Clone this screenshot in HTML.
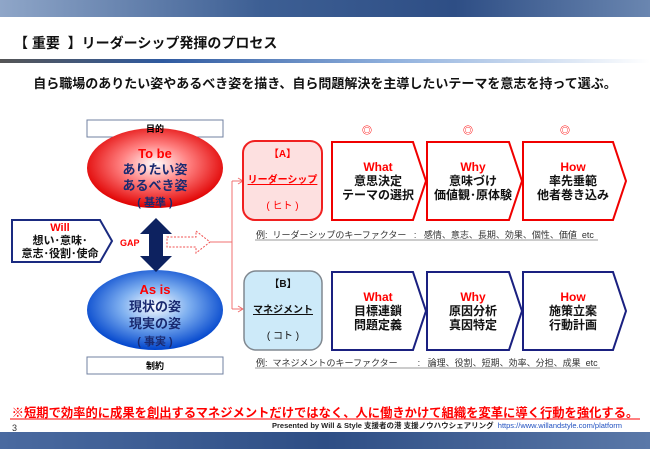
<!DOCTYPE html><html><head><meta charset="utf-8"><style>
body{margin:0;width:650px;height:449px;position:relative;overflow:hidden;background:#fff;font-family:"Liberation Sans","Noto Sans CJK JP",sans-serif;}
.a{position:absolute;}
.t{position:absolute;text-align:center;font-weight:bold;}
</style></head><body>
<div class="a" style="left:0;top:0;width:650px;height:17px;background:linear-gradient(90deg,#8fa6c8,#3d5f94 40%,#2e4e85 70%,#6a86b0)"></div>
<div class="a" style="left:14px;top:33px;font-size:14px;font-weight:bold;color:#111">【&nbsp;重要&nbsp;&nbsp;】リーダーシップ発揮のプロセス</div>
<div class="a" style="left:0;top:59px;width:650px;height:4px;background:linear-gradient(90deg,#555,#2f5aa0 25%,#8fb0dd 60%,#fff)"></div>
<div class="t" style="left:0;width:650px;top:73px;font-size:13px;color:#111">自ら職場のありたい姿やあるべき姿を描き、自ら問題解決を主導したいテーマを意志を持って選ぶ。</div>

<svg class="a" style="left:0;top:0" width="650" height="449">
<defs>
<radialGradient id="rg" cx="50%" cy="45%" r="55%"><stop offset="0" stop-color="#fff"/><stop offset="0.45" stop-color="#ff8080"/><stop offset="1" stop-color="#e00000"/></radialGradient>
<radialGradient id="bg" cx="50%" cy="45%" r="55%"><stop offset="0" stop-color="#fff"/><stop offset="0.45" stop-color="#7fb0f0"/><stop offset="1" stop-color="#0044cc"/></radialGradient>
</defs>
<rect x="87" y="120" width="136" height="17" fill="#fff" stroke="#7080a0"/>
<rect x="87" y="357" width="136" height="17" fill="#fff" stroke="#7080a0"/>
<ellipse cx="155" cy="168" rx="68" ry="40" fill="url(#rg)"/>
<ellipse cx="155" cy="310" rx="68" ry="40" fill="url(#bg)"/>
<polygon points="12,220 100,220 112,241 100,262 12,262" fill="#fff" stroke="#1a2a80" stroke-width="2"/>
<polygon points="156,218 172,234 163,234 163,256 172,256 156,272 140,256 149,256 149,234 140,234" fill="#0d2260"/>
<polygon points="167,237 196,237 196,231 210,242 196,253 196,247 167,247" fill="#fff" stroke="#f05050" stroke-dasharray="2,1.5"/>
<path d="M210,242 H232 M232,181 V309 M232,181 H243 M232,309 H243" stroke="#f07070" fill="none"/>
<path d="M238,178 L243,181 L238,184 M238,306 L243,309 L238,312" stroke="#f07070" fill="none"/>
<rect x="243" y="141" width="79" height="79" rx="12" fill="#fde0e0" stroke="#f02020" stroke-width="2"/>
<rect x="244" y="271" width="78" height="79" rx="12" fill="#cdeaf9" stroke="#808890" stroke-width="1.5"/>
<g fill="#fff" stroke-width="2" stroke="#f00000">
<polygon points="332,142 413,142 426,181 413,220 332,220"/>
<polygon points="427,142 509,142 522,181 509,220 427,220"/>
<polygon points="523,142 613,142 626,181 613,220 523,220"/>
</g>
<g fill="#fff" stroke-width="2" stroke="#1a2080">
<polygon points="332,272 413,272 426,311 413,350 332,350"/>
<polygon points="427,272 509,272 522,311 509,350 427,350"/>
<polygon points="523,272 613,272 626,311 613,350 523,350"/>
</g>
<line x1="255" y1="240" x2="598" y2="240" stroke="#999"/>
<line x1="255" y1="368" x2="600" y2="368" stroke="#999"/>
<line x1="10" y1="419" x2="640" y2="419" stroke="#f00" stroke-width="1"/>
</svg>
<div class="t" style="left:87px;width:136px;top:122px;font-size:9px">目的</div>
<div class="t" style="left:87px;width:136px;top:359px;font-size:9px">制約</div>
<div class="t" style="left:87px;width:136px;top:146px;font-size:13px;line-height:16px;color:#1a2a70"><span style="color:#f00">To be</span><br>ありたい姿<br>あるべき姿<br><span style="font-size:11px">( 基準 )</span></div>
<div class="t" style="left:87px;width:136px;top:281px;font-size:13px;line-height:17px;color:#1a2a70"><span style="color:#f00">As is</span><br>現状の姿<br>現実の姿<br><span style="font-size:11px">( 事実 )</span></div>
<div class="t" style="left:12px;width:96px;top:222px;font-size:11px;line-height:13px;color:#111"><span style="color:#f00">Will</span><br>想い･意味･<br>意志･役割･使命</div>
<div class="t" style="left:120px;top:238px;font-size:9px;color:#f00">GAP</div>
<div class="t" style="left:243px;width:79px;top:142px;font-size:10px;line-height:26px;color:#f00">【A】<br><u>リーダーシップ</u><br><span style="font-weight:normal">( ヒト )</span></div>
<div class="t" style="left:244px;width:78px;top:272px;font-size:10px;line-height:26px;color:#111">【B】<br><u>マネジメント</u><br><span style="font-weight:normal">( コト )</span></div>
<div class="t" style="left:362px;top:122px;font-size:10px;color:#f00">◎</div>
<div class="t" style="left:463px;top:122px;font-size:10px;color:#f00">◎</div>
<div class="t" style="left:560px;top:122px;font-size:10px;color:#f00">◎</div>
<div class="t" style="left:332px;width:92px;top:160px;font-size:12px;line-height:14px;color:#111"><span style="color:#f00">What</span><br>意思決定<br>テーマの選択</div>
<div class="t" style="left:427px;width:92px;top:160px;font-size:12px;line-height:14px;color:#111"><span style="color:#f00">Why</span><br>意味づけ<br>価値観･原体験</div>
<div class="t" style="left:523px;width:100px;top:160px;font-size:12px;line-height:14px;color:#111"><span style="color:#f00">How</span><br>率先垂範<br>他者巻き込み</div>
<div class="t" style="left:332px;width:92px;top:290px;font-size:12px;line-height:14px;color:#111"><span style="color:#f00">What</span><br>目標連鎖<br>問題定義</div>
<div class="t" style="left:427px;width:92px;top:290px;font-size:12px;line-height:14px;color:#111"><span style="color:#f00">Why</span><br>原因分析<br>真因特定</div>
<div class="t" style="left:523px;width:100px;top:290px;font-size:12px;line-height:14px;color:#111"><span style="color:#f00">How</span><br>施策立案<br>行動計画</div>
<div class="a" style="left:256px;top:228px;font-size:9px;color:#333;white-space:pre">例:  リーダーシップのキーファクター   :   感情、意志、長期、効果、個性、価値  etc</div>
<div class="a" style="left:256px;top:356px;font-size:9px;color:#333;white-space:pre">例:  マネジメントのキーファクター        :   論理、役割、短期、効率、分担、成果  etc</div>
<div class="t" style="left:0;width:650px;top:403px;font-size:12.3px;color:#f00;white-space:nowrap">※短期で効率的に成果を創出するマネジメントだけではなく、人に働きかけて組織を変革に導く行動を強化する。</div>
<div class="a" style="left:12px;top:423px;font-size:9px;color:#333">3</div>
<div class="a" style="left:272px;top:420px;font-size:7.5px;font-weight:bold;color:#222;white-space:nowrap">Presented by  Will &amp; Style 支援者の港  支援ノウハウシェアリング <span style="color:#2050c0;font-weight:normal">&nbsp;https://www.willandstyle.com/platform</span></div>
<div class="a" style="left:0;top:432px;width:650px;height:17px;background:linear-gradient(90deg,#4a6aa0,#2e4e85 50%,#5a78a8)"></div>
</body></html>
